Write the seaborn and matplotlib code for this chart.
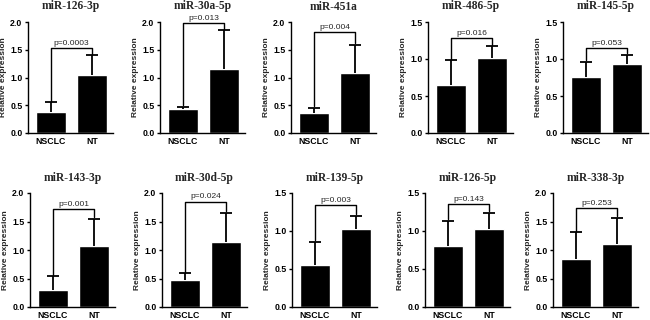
import matplotlib
matplotlib.use("Agg")
import matplotlib.pyplot as plt
import seaborn as sns
import pandas as pd

sns.set_theme(style="ticks")
plt.rcParams['font.family'] = ['Liberation Sans', 'DejaVu Sans']

titles = ["miR-126-3p", "miR-30a-5p", "miR-451a", "miR-486-5p", "miR-145-5p",
          "miR-143-3p", "miR-30d-5p", "miR-139-5p", "miR-126-5p", "miR-338-3p"]
groups = ["NSCLC", "NT"]
nsclc_mean = [0.38, 0.43, 0.36, 0.65, 0.76, 0.29, 0.47, 0.55, 0.80, 0.85]
nsclc_top = [0.55, 0.47, 0.45, 0.98, 0.96, 0.54, 0.59, 0.86, 1.13, 1.31]
nt_mean = [1.05, 1.15, 1.09, 1.01, 0.93, 1.07, 1.14, 1.02, 1.02, 1.11]
nt_top = [1.40, 1.85, 1.59, 1.17, 1.06, 1.55, 1.65, 1.20, 1.24, 1.57]
p_labels = ["p=0.0003", "p=0.013", "p=0.004", "p=0.016", "p=0.053",
            "p=0.001", "p=0.024", "p=0.003", "p=0.143", "p=0.253"]
bracket_y = [1.53, 1.98, 1.82, 1.28, 1.15, 1.72, 1.85, 1.34, 1.35, 1.73]
ymax = [2.0, 2.0, 2.0, 1.5, 1.5, 2.0, 2.0, 1.5, 1.5, 2.0]
yticks_2 = [0.0, 0.5, 1.0, 1.5, 2.0]
yticks_15 = [0.0, 0.5, 1.0, 1.5]

W, H = 650, 320
fig = plt.figure(figsize=(6.5, 3.2), dpi=100)

lefts_px = [28, 160, 291, 428, 563, 30, 162, 292, 425, 553]
top_px = [22, 22, 22, 22, 22, 193, 193, 193, 193, 193]
bot_px = [133, 133, 133, 133, 133, 307, 307, 307, 307, 307]
w_px = 85

for i in range(10):
    ax = fig.add_axes([lefts_px[i] / W, 1 - bot_px[i] / H, w_px / W,
                       (bot_px[i] - top_px[i]) / H])
    df = pd.DataFrame({"group": groups, "value": [nsclc_mean[i], nt_mean[i]]})
    sns.barplot(data=df, x="group", y="value", color="black", width=0.72,
                errorbar=None, ax=ax, saturation=1)
    tops = [nsclc_top[i], nt_top[i]]
    means = [nsclc_mean[i], nt_mean[i]]
    eb = ax.errorbar([0, 1], means, yerr=[[0, 0], [t - m for t, m in zip(tops, means)]],
                     fmt='none', ecolor='black', elinewidth=1.3, capsize=4.5,
                     capthick=1.3, zorder=3)
    caps = eb[1]
    if len(caps) == 2:
        caps[0].set_visible(False)
    by = bracket_y[i]
    gap = 0.03 * ymax[i] / 2.0
    ax.plot([0, 0, 1, 1], [tops[0] + gap, by, by, tops[1] + gap],
            color='black', lw=1.0, clip_on=False)
    ax.text(0.5, by + 0.025 * ymax[i] / 2.0, p_labels[i], ha='center', va='bottom',
            fontsize=6, clip_on=False)
    ticks = yticks_2 if ymax[i] == 2.0 else yticks_15
    ax.set_ylim(0, ymax[i])
    ax.set_yticks(ticks)
    ax.set_yticklabels([f"{v:.1f}" for v in ticks])
    ax.set_xlim(-0.55, 1.5)
    ax.set_xlabel("")
    ax.set_ylabel("Relative expression", fontsize=6, fontweight='bold', labelpad=2)
    ax.set_title(titles[i], fontsize=8.3, fontweight='bold',
                 family=['Liberation Serif', 'DejaVu Serif'], pad=9)
    for lab in ax.get_xticklabels() + ax.get_yticklabels():
        lab.set_fontweight('bold')
        lab.set_fontsize(6.3)
    ax.tick_params(axis='both', length=2.5, width=1, pad=1.5, colors='black')
    ax.tick_params(axis='x', length=0, pad=3)
    sns.despine(ax=ax)
    for s in ['left', 'bottom']:
        ax.spines[s].set_linewidth(1)
        ax.spines[s].set_color('black')

fig.savefig("out.png", dpi=100)
